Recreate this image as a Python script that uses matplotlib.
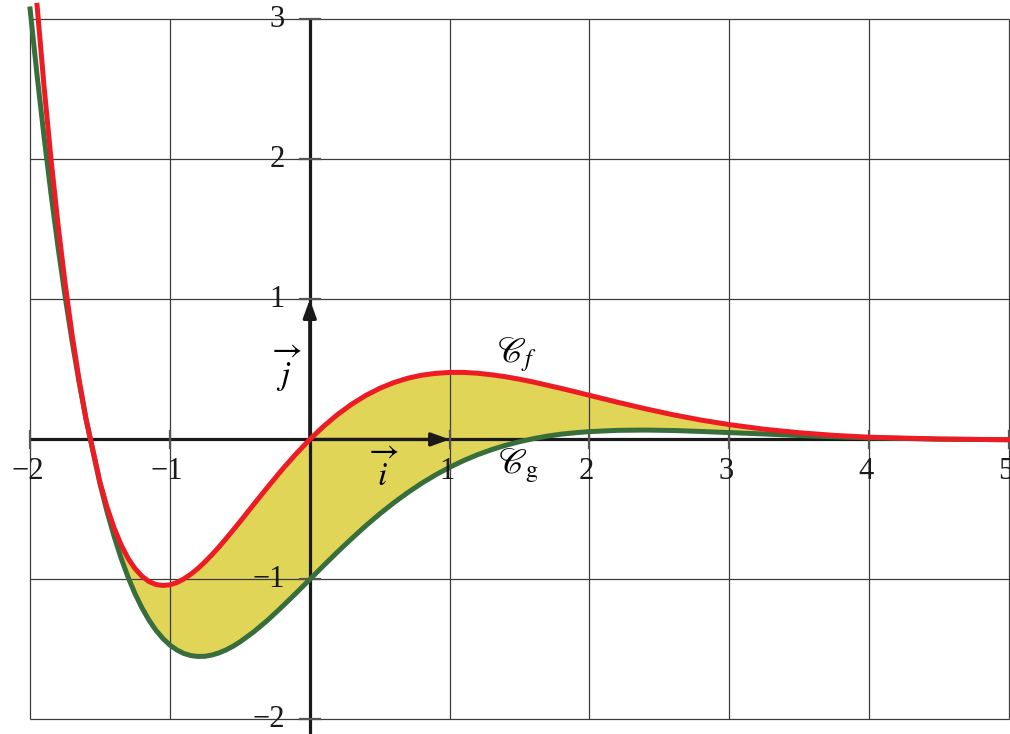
import numpy as np
import matplotlib
matplotlib.use("Agg")
import matplotlib.pyplot as plt

# valeurs
x_vals = [-2.0, -1.95, -1.9, -1.85, -1.8, -1.75, -1.7, -1.65, -1.6, -1.5, -1.45, -1.4, -1.35, -1.3,
          -1.25, -1.2, -1.15, -1.1, -1.05, -1.0, -0.95, -0.9, -0.85, -0.8, -0.75, -0.7, -0.65,
          -0.6, -0.55, -0.5, -0.4, -0.3, -0.2, -0.1, 0.0,
          0.1, 0.2, 0.3, 0.4, 0.5, 0.6, 0.7, 0.8, 0.9, 1.0, 1.1, 1.2, 1.3, 1.4,
          1.5, 1.6, 1.7, 1.8, 1.9, 2.0, 2.2, 2.4, 2.6, 2.8, 3.0, 3.25, 3.5, 3.75,
          4.0, 4.5, 5.0]
# courbe Cf (coupée en haut, pas de point en -2)
f_vals = [np.nan, 3.101, 2.521, 1.999, 1.533, 1.118, 0.750, 0.428, 0.147, -0.306, -0.483, -0.630, -0.751, -0.848,
          -0.922, -0.977, -1.015, -1.036, -1.043, -1.038, -1.022, -0.996, -0.962, -0.922, -0.875, -0.824, -0.769,
          -0.710, -0.650, -0.589, -0.463, -0.339, -0.218, -0.105, 0.0,
          0.095, 0.179, 0.252, 0.314, 0.365, 0.406, 0.437, 0.459, 0.472, 0.479, 0.479, 0.473, 0.462, 0.448,
          0.430, 0.410, 0.387, 0.364, 0.340, 0.315, 0.266, 0.219, 0.176, 0.138, 0.106, 0.073, 0.048, 0.029,
          0.016, 0.003, -0.002]
# courbe Cg
g_vals = [3.075, 2.602, 2.162, 1.753, 1.374, 1.025, 0.705, 0.412, 0.145, -0.317, -0.514, -0.689, -0.845, -0.982,
          -1.101, -1.203, -1.290, -1.363, -1.422, -1.469, -1.504, -1.529, -1.544, -1.550, -1.549, -1.540, -1.525,
          -1.504, -1.478, -1.447, -1.374, -1.290, -1.197, -1.100, -1.000,
          -0.900, -0.802, -0.708, -0.617, -0.532, -0.453, -0.380, -0.313, -0.253, -0.199, -0.151, -0.109, -0.073, -0.042,
          -0.016, 0.006, 0.024, 0.038, 0.048, 0.056, 0.065, 0.067, 0.064, 0.057, 0.049, 0.039, 0.028, 0.019,
          0.012, 0.002, -0.002]

x_ticks = [-2, -1, 1, 2, 3, 4, 5]
y_ticks = [-2, -1, 1, 2, 3]

plt.rcParams['mathtext.fontset'] = 'stix'
plt.rcParams['font.family'] = 'Liberation Serif'

x = np.array(x_vals)
f = np.array(f_vals)
g = np.array(g_vals)

fig = plt.figure(figsize=(10.10, 7.34), dpi=100)
ax = fig.add_axes([0, 0, 1, 1])
ax.set_xlim(-2.215, 5.007)
ax.set_ylim(-2.104, 3.139)
ax.axis('off')

# remplissage entre les courbes
mask = x >= -1.6
ax.fill_between(x[mask], f[mask], g[mask], color='#e1d558', lw=0, zorder=1)

# quadrillage
ax.vlines(x_ticks, -2, 3, color='#3c3c3c', lw=0.9, zorder=2)
ax.hlines(y_ticks, -2, 5, color='#3c3c3c', lw=0.9, zorder=2)

# axes
ax.plot([-2, 5], [0, 0], color='#1a1a1a', lw=2.3, zorder=3, solid_capstyle='butt')
ax.plot([0, 0], [-2.2, 3], color='#1a1a1a', lw=2.3, zorder=3, solid_capstyle='butt')
for t in x_ticks:
    ax.plot([t, t], [-0.06, 0.06], color='#555555', lw=1.6, zorder=3)
for t in y_ticks:
    ax.plot([-0.07, 0.07], [t, t], color='#555555', lw=1.6, zorder=3)

# vecteurs i et j
arr = dict(arrowstyle='-|>,head_length=0.55,head_width=0.2', color='#1a1a1a',
           lw=2.3, mutation_scale=20, shrinkA=0, shrinkB=0)
ax.annotate('', xy=(1, 0), xytext=(0, 0), arrowprops=arr, zorder=4)
ax.annotate('', xy=(0, 1), xytext=(0, 0), arrowprops=arr, zorder=4)

# courbes
ax.plot(x, g, color='#386e3c', lw=3.6, zorder=5, solid_joinstyle='round')
ax.plot(x, f, color='#ed1c24', lw=3.6, zorder=6, solid_joinstyle='round')

# graduations
for t in x_ticks:
    ax.text(t - 0.02, -0.23, str(t).replace('-', '\u2212'), fontsize=22,
            ha='center', va='center', color='#1a1a1a', zorder=7)
for t in y_ticks:
    ax.text(-0.18, t, str(t).replace('-', '\u2212'), fontsize=22,
            ha='right', va='center', color='#1a1a1a', zorder=7)

# légendes
ax.text(-0.165, 0.50, r'$\overrightarrow{j}$', fontsize=24, ha='center', va='center', zorder=7)
ax.text(0.53, -0.23, r'$\overrightarrow{i}$', fontsize=24, ha='center', va='center', zorder=7)
ax.text(1.48, 0.61, r'$\mathscr{C}_f$', fontsize=25, ha='center', va='center', zorder=7)
ax.text(1.49, -0.19, r'$\mathscr{C}_{\mathrm{g}}$', fontsize=25, ha='center', va='center', zorder=7)

fig.savefig('out.png', dpi=100)
